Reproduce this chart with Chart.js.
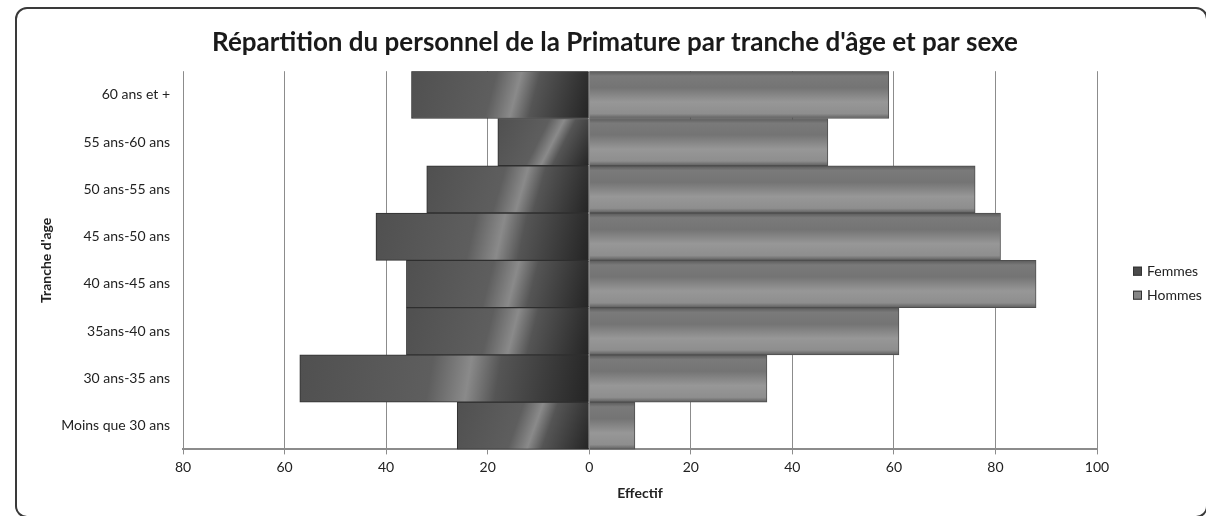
<!DOCTYPE html>
<html>
<head>
<meta charset="utf-8">
<script src="https://cdn.jsdelivr.net/npm/chart.js@4"></script>
<style>
  body { margin: 0; background: #fff; }
  #frame {
    position: absolute; left: 15px; top: 7px;
    width: 1189px; height: 507px;
    border: 2px solid #3a3a3a; border-radius: 12px;
    overflow: hidden;
  }
</style>
</head>
<body>
<div id="frame"><canvas id="pyramid" width="1189" height="507"></canvas></div>
<script>
// tranches d'âge, de la plus jeune à la plus âgée (bas -> haut)
const ageGroups = [
  "Moins que 30 ans", "30 ans-35 ans", "35ans-40 ans", "40 ans-45 ans",
  "45 ans-50 ans", "50 ans-55 ans", "55 ans-60 ans", "60 ans et +",
];
const femmes = [26, 57, 36, 36, 42, 32, 18, 35];
const hommes = [9, 35, 61, 88, 81, 76, 47, 59];

const xTicks = [-80, -60, -40, -20, 0, 20, 40, 60, 80, 100];

// bande d'une catégorie en pixels
function band(chart, i) {
  const y = chart.scales.y;
  const h = chart.chartArea.height / ageGroups.length;
  const c = y.getPixelForValue(i);
  return [c - h / 2, c + h / 2];
}

function femmesFill(ctx) {
  const chart = ctx.chart;
  if (!chart.chartArea || !chart.scales.y) return "#4a4a4a";
  const [top, bot] = band(chart, ctx.dataIndex);
  const x0 = chart.scales.x.getPixelForValue(-femmes[ctx.dataIndex]);
  const x1 = chart.scales.x.getPixelForValue(0);
  const g = chart.ctx.createLinearGradient(x0, top, x1, bot);
  g.addColorStop(0, "#505050");
  g.addColorStop(0.45, "#5e5e5e");
  g.addColorStop(0.58, "#8a8a8a");
  g.addColorStop(0.68, "#555555");
  g.addColorStop(1, "#242424");
  return g;
}

function hommesFill(ctx) {
  const chart = ctx.chart;
  if (!chart.chartArea || !chart.scales.y) return "#8a8a8a";
  const [top, bot] = band(chart, ctx.dataIndex);
  const g = chart.ctx.createLinearGradient(0, top, 0, bot);
  g.addColorStop(0, "#5a5a5a");
  g.addColorStop(0.1, "#7a7a7a");
  g.addColorStop(0.35, "#747474");
  g.addColorStop(0.65, "#979797");
  g.addColorStop(0.9, "#8e8e8e");
  g.addColorStop(1, "#5e5e5e");
  return g;
}

const legendColors = ["#4a4a4a", "#858585"];
const FONT = "Lato, 'Open Sans', sans-serif";

// légende à droite, placée comme dans Excel
const sideLegend = {
  id: "sideLegend",
  afterDraw(chart) {
    const { ctx, chartArea } = chart;
    ctx.save();
    ctx.font = `14px ${FONT}`;
    ctx.textBaseline = "middle";
    chart.data.datasets.forEach((ds, i) => {
      const x = chartArea.right + 36;
      const y = chartArea.top + 200 + i * 24;
      ctx.fillStyle = legendColors[i];
      ctx.fillRect(x, y - 4.5, 9, 9);
      ctx.strokeStyle = "#333";
      ctx.lineWidth = 1;
      ctx.strokeRect(x + 0.5, y - 4, 8, 8);
      ctx.fillStyle = "#222";
      ctx.fillText(ds.label, x + 14, y);
    });
    ctx.restore();
  },
};

new Chart(document.getElementById("pyramid"), {
  type: "bar",
  data: {
    labels: ageGroups,
    datasets: [
      {
        label: "Femmes",
        data: femmes.map((v) => -v),
        backgroundColor: femmesFill,
        borderColor: "#2e2e2e",
        borderWidth: 1,
      },
      {
        label: "Hommes",
        data: hommes,
        backgroundColor: hommesFill,
        borderColor: "#4e4e4e",
        borderWidth: 1,
      },
    ],
  },
  options: {
    indexAxis: "y",
    responsive: false,
    animation: false,
    barPercentage: 1,
    categoryPercentage: 1,
    layout: { padding: { left: 21, right: 14, top: 6, bottom: 10 } },
    scales: {
      x: {
        stacked: true,
        min: -80,
        max: 100,
        afterBuildTicks: (axis) => {
          axis.ticks = xTicks.map((v) => ({ value: v }));
        },
        ticks: {
          callback: (v) => Math.abs(v),
          color: "#222",
          font: { family: FONT, size: 14 },
          padding: 5,
        },
        grid: { color: "#8c8c8c", tickLength: 5, tickColor: "#8c8c8c" },
        border: { color: "#8c8c8c", width: 2 },
        title: {
          display: true,
          text: "Effectif",
          color: "#222",
          font: { family: FONT, size: 14, weight: "bold" },
          padding: { top: 4 },
        },
      },
      y: {
        stacked: true,
        reverse: true,
        afterFit: (axis) => {
          axis.width = 145;
        },
        ticks: {
          color: "#222",
          font: { family: FONT, size: 14 },
          padding: 5,
        },
        grid: { display: false },
        border: { display: false },
        title: {
          display: true,
          text: "Tranche d'age",
          color: "#222",
          font: { family: FONT, size: 14, weight: "bold" },
          padding: 0,
        },
      },
      // axe vide à droite : réserve la place de la légende
      legendSpace: {
        type: "category",
        axis: "y",
        position: "right",
        afterFit: (axis) => {
          axis.width = 95;
        },
        ticks: { display: false },
        grid: { display: false },
        border: { display: false },
      },
    },
    plugins: {
      title: {
        display: true,
        text: "Répartition du personnel de la Primature par tranche d'âge et par sexe",
        color: "#1a1a1a",
        font: { family: FONT, size: 26, weight: "bold" },
        padding: { top: 12, bottom: 13 },
      },
      legend: { display: false },
      tooltip: { enabled: false },
    },
  },
  plugins: [sideLegend],
});
</script>
</body>
</html>
